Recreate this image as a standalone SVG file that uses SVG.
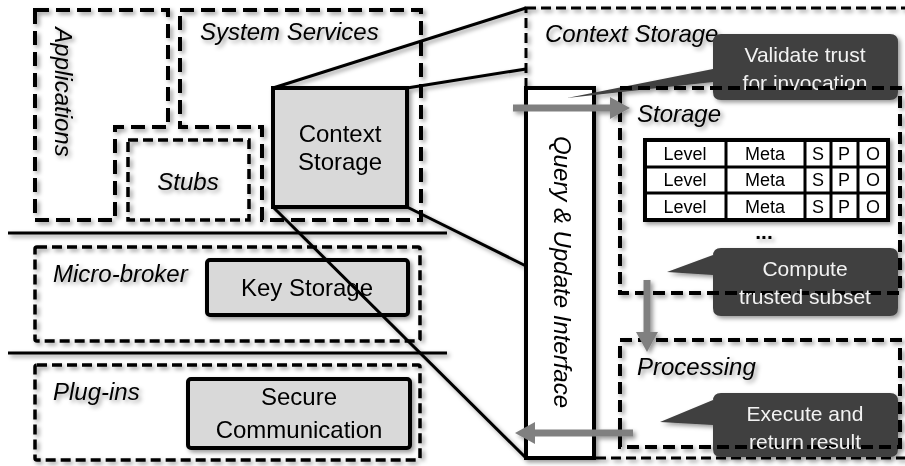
<svg xmlns="http://www.w3.org/2000/svg" xmlns:xlink="http://www.w3.org/1999/xlink" width="905" height="466" viewBox="0 0 905 466">
  <defs>
    <filter id="shadow" x="-5%" y="-5%" width="110%" height="110%">
      <feDropShadow dx="2.5" dy="2.5" stdDeviation="2.2" flood-color="#000" flood-opacity="0.4"/>
    </filter>
    <marker id="head" markerUnits="userSpaceOnUse" markerWidth="20" markerHeight="22" viewBox="0 0 20 22" refX="8" refY="11" orient="auto">
      <path d="M0,0 L20,11 L0,22 Z" fill="#808080"/>
    </marker>
    <style>
      text { font-family: "Liberation Sans", Arial, sans-serif; fill: #000; }
      .it { font-style: italic; font-size: 24px; }
      .lbl { font-size: 24px; text-anchor: middle; }
      .cell { font-size: 18px; text-anchor: middle; }
      .note { font-size: 21px; text-anchor: middle; fill: #f2f2f2; }
      .dash-l { fill: none; stroke: #000; stroke-width: 4; stroke-dasharray: 14 7; }
      .dash-b { fill: none; stroke: #000; stroke-width: 4; stroke-dasharray: 12 6; }
      .dash-m { fill: none; stroke: #000; stroke-width: 3.5; stroke-dasharray: 10 5; }
      .dash-s { fill: none; stroke: #000; stroke-width: 3; stroke-dasharray: 10 5; }
      .comp { fill: #d9d9d9; stroke: #000; stroke-width: 4; }
      .solid { fill: none; stroke: #000; stroke-width: 3; }
      .bubble { fill: #404040; }
      .flow { fill: none; stroke: #808080; stroke-width: 7; marker-end: url(#head); }
    </style>
    <!-- outlines of the storage and processing stages, reused where a note overlaps them -->
    <rect id="storage-outline" class="dash-b" x="620" y="88" width="280" height="205"/>
    <rect id="processing-outline" class="dash-b" x="620" y="340" width="280" height="107"/>
  </defs>

  <g filter="url(#shadow)">
    <!-- layer separators -->
    <g id="separators">
      <line class="solid" x1="8" y1="233" x2="447" y2="233"/>
      <line class="solid" x1="8" y1="353" x2="447" y2="353"/>
    </g>

    <!-- upper layer: applications, system services, stubs -->
    <g id="applications">
      <path class="dash-l" d="M35,10 H168 V127 H115 V220 H35 Z"/>
      <text class="it" font-size="23" text-anchor="middle" transform="translate(55,92) rotate(90)">Applications</text>
    </g>
    <g id="system-services">
      <path class="dash-l" d="M180,10 H421 V220 H262 V127 H180 Z"/>
      <text class="it" x="200" y="40" font-size="23">System Services</text>
    </g>
    <g id="stubs">
      <rect class="dash-m" x="128" y="140" width="121" height="80"/>
      <text class="it" x="188" y="190" font-size="23" text-anchor="middle">Stubs</text>
    </g>
    <g id="context-storage">
      <rect class="comp" x="273" y="88" width="134" height="119"/>
      <text class="lbl" x="340" y="142">Context</text>
      <text class="lbl" x="340" y="170">Storage</text>
    </g>

    <!-- middle layer -->
    <g id="micro-broker">
      <rect class="dash-m" x="35" y="247" width="385" height="94" rx="2"/>
      <text class="it" x="53" y="282">Micro-broker</text>
    </g>
    <g id="key-storage">
      <rect class="comp" x="207" y="260" width="201" height="55" rx="3"/>
      <text class="lbl" x="307" y="296">Key Storage</text>
    </g>

    <!-- lower layer -->
    <g id="plug-ins">
      <rect class="dash-m" x="35" y="365" width="385" height="95" rx="2"/>
      <text class="it" x="53" y="400">Plug-ins</text>
    </g>
    <g id="secure-communication">
      <rect class="comp" x="188" y="379" width="222" height="69" rx="3"/>
      <text class="lbl" x="299" y="405">Secure</text>
      <text class="lbl" x="299" y="438">Communication</text>
    </g>

    <!-- detail view of the context storage -->
    <g id="context-storage-detail">
      <rect class="dash-s" x="526" y="8" width="400" height="450"/>
      <text class="it" x="545" y="42">Context Storage</text>
    </g>

    <!-- magnification lines -->
    <g id="zoom-lines">
      <line class="solid" x1="273" y1="88" x2="526" y2="8"/>
      <line class="solid" x1="407" y1="88" x2="526" y2="69"/>
      <line class="solid" x1="407" y1="207" x2="526" y2="266"/>
      <line class="solid" x1="273" y1="207" x2="526" y2="458"/>
    </g>

    <g id="query-update-interface">
      <rect x="526" y="88" width="68" height="370" fill="#fff" stroke="#000" stroke-width="4"/>
      <text class="it" font-size="25" text-anchor="middle" transform="translate(554,272) rotate(90)">Query &amp; Update Interface</text>
    </g>

    <g id="storage">
      <use xlink:href="#storage-outline" href="#storage-outline"/>
      <text class="it" x="637" y="122">Storage</text>
    </g>
    <g id="processing">
      <use xlink:href="#processing-outline" href="#processing-outline"/>
      <text class="it" x="637" y="375">Processing</text>
    </g>

    <g id="storage-table">
      <rect x="645" y="140" width="243" height="80" fill="#fff" stroke="#000" stroke-width="4"/>
      <path class="solid" d="M645,167 H888 M645,193 H888 M726,140 V220 M805,140 V220 M831,140 V220 M858,140 V220"/>
      <text class="cell" x="685" y="160">Level</text>
      <text class="cell" x="765" y="160">Meta</text>
      <text class="cell" x="818" y="160">S</text>
      <text class="cell" x="844" y="160">P</text>
      <text class="cell" x="873" y="160">O</text>
      <text class="cell" x="685" y="186">Level</text>
      <text class="cell" x="765" y="186">Meta</text>
      <text class="cell" x="818" y="186">S</text>
      <text class="cell" x="844" y="186">P</text>
      <text class="cell" x="873" y="186">O</text>
      <text class="cell" x="685" y="213">Level</text>
      <text class="cell" x="765" y="213">Meta</text>
      <text class="cell" x="818" y="213">S</text>
      <text class="cell" x="844" y="213">P</text>
      <text class="cell" x="873" y="213">O</text>
      <text x="764" y="239" font-size="21" font-weight="bold" text-anchor="middle">...</text>
    </g>

    <!-- callouts: the stage outline stays visible across each bubble, the text sits on top -->
    <g id="note-validate">
      <path class="bubble" d="M721,34 H890 Q898,34 898,42 V92 Q898,100 890,100 H721 Q713,100 713,92 V82 L567,98 L713,69 V42 Q713,34 721,34 Z"/>
      <use xlink:href="#storage-outline" href="#storage-outline"/>
      <text class="note" x="805" y="62">Validate trust</text>
      <text class="note" x="805" y="90">for invocation</text>
    </g>
    <g id="note-compute">
      <path class="bubble" d="M721,248 H890 Q898,248 898,256 V308 Q898,316 890,316 H721 Q713,316 713,308 V275 L667,272 L713,255 V256 Q713,248 721,248 Z"/>
      <use xlink:href="#storage-outline" href="#storage-outline"/>
      <text class="note" x="805" y="276">Compute</text>
      <text class="note" x="805" y="304">trusted subset</text>
    </g>
    <g id="note-execute">
      <path class="bubble" d="M721,393 H890 Q898,393 898,401 V449 Q898,457 890,457 H721 Q713,457 713,449 V425 L660,422 L713,400 V401 Q713,393 721,393 Z"/>
      <use xlink:href="#processing-outline" href="#processing-outline"/>
      <text class="note" x="805" y="421">Execute and</text>
      <text class="note" x="805" y="449">return result</text>
    </g>

    <!-- data flow -->
    <g id="connectors">
      <path class="flow" d="M513,108 H618"/>
      <path class="flow" d="M647,280 V340"/>
      <path class="flow" d="M633,433 H527"/>
    </g>
  </g>
</svg>
